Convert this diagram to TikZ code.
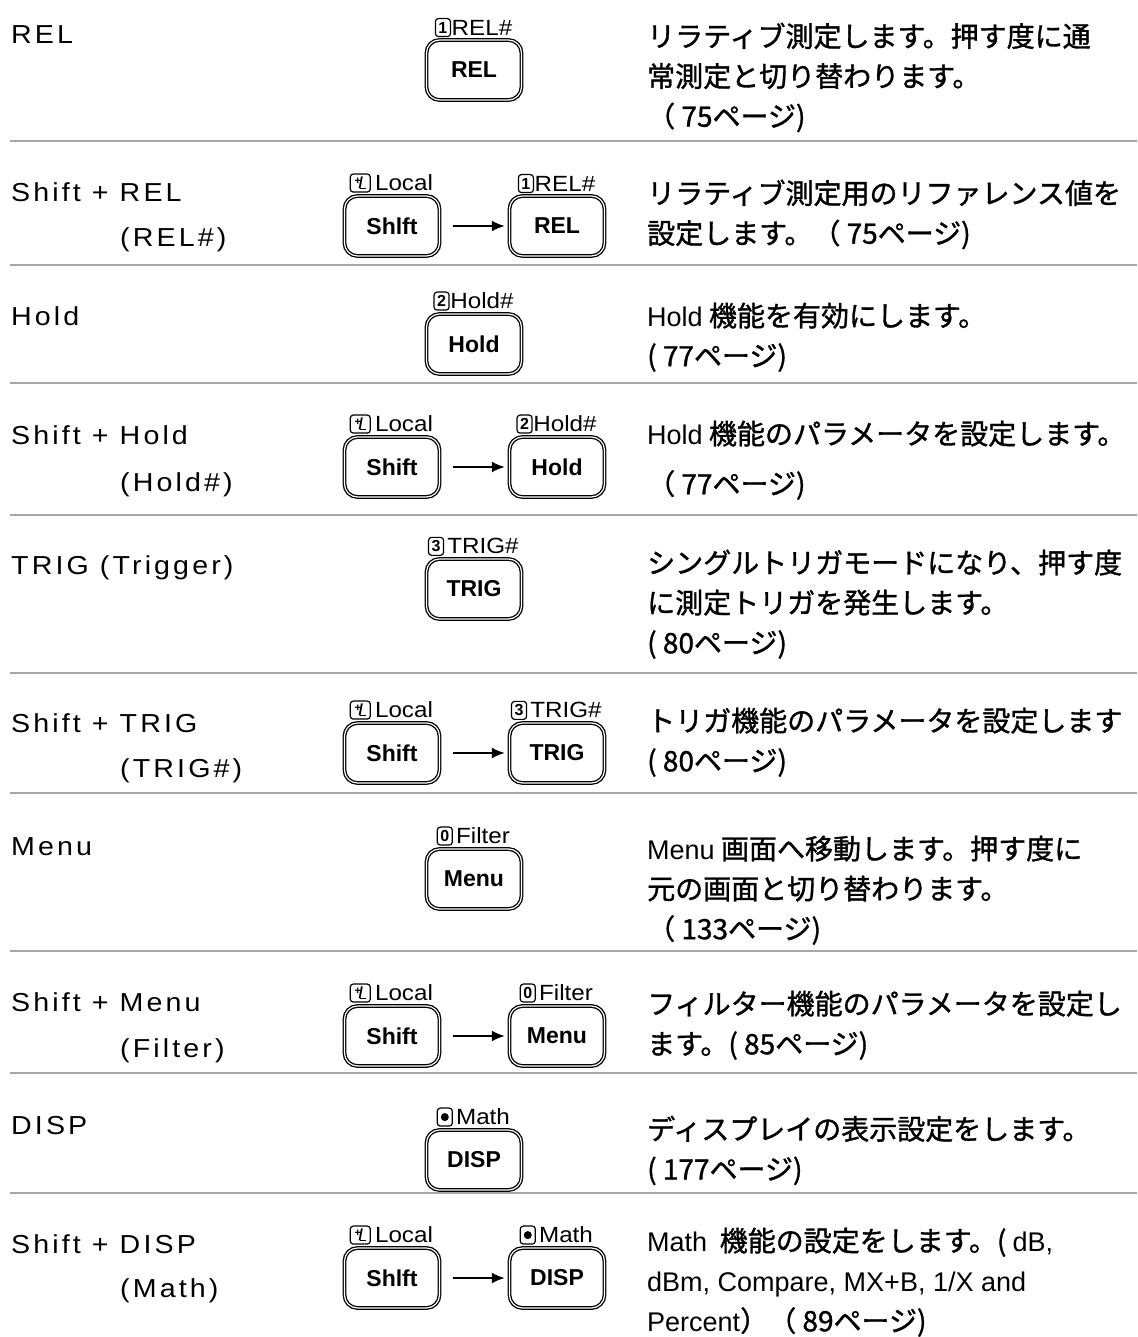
\documentclass[tikz,border=0pt]{standalone}
\usepackage{fontspec}
\setmainfont{Liberation Sans}
\newfontfamily\jpfont[FakeBold=1.2]{Noto Sans CJK JP}
\newfontfamily\namefont[LetterSpace=12,FakeStretch=1.1]{Liberation Sans}
\newfontfamily\capfont[FakeStretch=1.1]{Liberation Sans}
\usetikzlibrary{positioning,arrows.meta}

\definecolor{rulegray}{HTML}{A6A6A6}
\newcommand{\en}[1]{{\normalfont\fontsize{27}{40}\selectfont #1}}
\newcommand{\pmsign}{\raisebox{3.5pt}{\fontsize{11}{11}\selectfont +}\kern-2.5pt/\kern-2.5pt\raisebox{-1pt}{\rule{5.5pt}{1.3pt}}}

\tikzset{
    every node/.style={inner sep=0pt},
    funcname/.style={anchor=base west, font=\namefont\fontsize{26}{26}\selectfont},
    desc/.style={anchor=north west, align=left, font=\jpfont\fontsize{28}{40}\selectfont},
    button/.style={draw, line width=1.3pt, double=white, double distance=1.2pt, rounded corners=13pt,
        minimum width=95pt, minimum height=60pt, font=\bfseries\fontsize{23}{23}\selectfont},
    keycap/.style={font=\capfont\fontsize{22}{22}\selectfont},
    iconbox/.style={draw, line width=1.2pt, rounded corners=3pt, minimum width=15pt,
        minimum height=18pt, font=\bfseries\fontsize{16}{16}\selectfont},
    press/.style={-{Latex[length=13pt,width=11pt]}, line width=2pt, shorten <=13pt, shorten >=4pt},
    divider/.style={draw=rulegray, line width=2.5pt},
}

\begin{document}
\begin{tikzpicture}[x=1pt, y=-1pt]
    \path[use as bounding box, fill=white] (0,0) rectangle (1137,1337);

    % row dividers
    \draw[divider] (10,141) -- (1137,141);
    \draw[divider] (10,265) -- (1137,265);
    \draw[divider] (10,383) -- (1137,383);
    \draw[divider] (10,515) -- (1137,515);
    \draw[divider] (10,673) -- (1137,673);
    \draw[divider] (10,793) -- (1137,793);
    \draw[divider] (10,951) -- (1137,951);
    \draw[divider] (10,1073) -- (1137,1073);
    \draw[divider] (10,1193) -- (1137,1193);

    % REL
    \node[funcname] (rel-name) at (11,44) {REL};
    \node[button] (rel-key) at (474,70) {REL};
    \node[keycap, above=4pt of rel-key, xshift=8pt] (rel-cap) {REL\#};
    \node[iconbox, left=0.5pt of rel-cap] (rel-icon) {1};
    \node[desc] (rel-desc) at (647,22.5) {リラティブ測定します。押す度に通\\常測定と切り替わります。\\（ 75ページ)};

    % Shift + REL
    \node[funcname] (shift-rel-name) at (11,201.5) {Shift + REL};
    \node[funcname] (shift-rel-sub) at (120,246.5) {(REL\#)};
    \node[button] (shift-rel-shift) at (392,226) {Shlft};
    \node[button] (shift-rel-key) at (557,226) {REL};
    \draw[press] (shift-rel-shift) -- (shift-rel-key);
    \node[keycap, above=4pt of shift-rel-shift, xshift=12pt] (shift-rel-shift-cap) {Local};
    \node[iconbox, left=4pt of shift-rel-shift-cap, minimum width=20pt] (shift-rel-shift-icon) {\pmsign};
    \node[keycap, above=4pt of shift-rel-key, xshift=8pt] (shift-rel-cap) {REL\#};
    \node[iconbox, left=0.5pt of shift-rel-cap] (shift-rel-icon) {1};
    \node[desc] (shift-rel-desc) at (647,179.5) {リラティブ測定用のリファレンス値を\\設定します。（ 75ページ)};

    % Hold
    \node[funcname] (hold-name) at (11,325.5) {Hold};
    \node[button] (hold-key) at (474,344) {Hold};
    \node[keycap, above=4pt of hold-key, xshift=8pt] (hold-cap) {Hold\#};
    \node[iconbox, left=0.5pt of hold-cap] (hold-icon) {2};
    \node[desc] (hold-desc) at (647,302.5) {\en{Hold} 機能を有効にします。\\( 77ページ)};

    % Shift + Hold
    \node[funcname] (shift-hold-name) at (11,444.5) {Shift + Hold};
    \node[funcname] (shift-hold-sub) at (120,491.5) {(Hold\#)};
    \node[button] (shift-hold-shift) at (392,467) {Shift};
    \node[button] (shift-hold-key) at (557,467) {Hold};
    \draw[press] (shift-hold-shift) -- (shift-hold-key);
    \node[keycap, above=4pt of shift-hold-shift, xshift=12pt] (shift-hold-shift-cap) {Local};
    \node[iconbox, left=4pt of shift-hold-shift-cap, minimum width=20pt] (shift-hold-shift-icon) {\pmsign};
    \node[keycap, above=4pt of shift-hold-key, xshift=8pt] (shift-hold-cap) {Hold\#};
    \node[iconbox, left=0.5pt of shift-hold-cap] (shift-hold-icon) {2};
    \node[desc] (shift-hold-desc) at (647,420.5) {\en{Hold} 機能のパラメータを設定します。\\[10pt]（ 77ページ)};

    % TRIG
    \node[funcname] (trig-name) at (11,574.5) {TRIG (Trigger)};
    \node[button] (trig-key) at (474,589) {TRIG};
    \node[keycap, above=4pt of trig-key, xshift=9pt] (trig-cap) {TRIG\#};
    \node[iconbox, left=3pt of trig-cap] (trig-icon) {3};
    \node[desc] (trig-desc) at (647,549.5) {シングルトリガモードになり、押す度\\に測定トリガを発生します。\\( 80ページ)};

    % Shift + TRIG
    \node[funcname] (shift-trig-name) at (11,732.5) {Shift + TRIG};
    \node[funcname] (shift-trig-sub) at (120,777.5) {(TRIG\#)};
    \node[button] (shift-trig-shift) at (392,753) {Shift};
    \node[button] (shift-trig-key) at (557,753) {TRIG};
    \draw[press] (shift-trig-shift) -- (shift-trig-key);
    \node[keycap, above=4pt of shift-trig-shift, xshift=12pt] (shift-trig-shift-cap) {Local};
    \node[iconbox, left=4pt of shift-trig-shift-cap, minimum width=20pt] (shift-trig-shift-icon) {\pmsign};
    \node[keycap, above=4pt of shift-trig-key, xshift=9pt] (shift-trig-cap) {TRIG\#};
    \node[iconbox, left=3pt of shift-trig-cap] (shift-trig-icon) {3};
    \node[desc] (shift-trig-desc) at (647,707.5) {トリガ機能のパラメータを設定します\\( 80ページ)};

    % Menu
    \node[funcname] (menu-name) at (11,855.5) {Menu};
    \node[button] (menu-key) at (474,879) {Menu};
    \node[keycap, above=4pt of menu-key, xshift=9pt] (menu-cap) {Filter};
    \node[iconbox, left=3pt of menu-cap] (menu-icon) {0};
    \node[desc] (menu-desc) at (647,835.5) {\en{Menu} 画面へ移動します。押す度に\\元の画面と切り替わります。\\（ 133ページ)};

    % Shift + Menu
    \node[funcname] (shift-menu-name) at (11,1011.5) {Shift + Menu};
    \node[funcname] (shift-menu-sub) at (120,1057.5) {(Filter)};
    \node[button] (shift-menu-shift) at (392,1036) {Shift};
    \node[button] (shift-menu-key) at (557,1036) {Menu};
    \draw[press] (shift-menu-shift) -- (shift-menu-key);
    \node[keycap, above=4pt of shift-menu-shift, xshift=12pt] (shift-menu-shift-cap) {Local};
    \node[iconbox, left=4pt of shift-menu-shift-cap, minimum width=20pt] (shift-menu-shift-icon) {\pmsign};
    \node[keycap, above=4pt of shift-menu-key, xshift=9pt] (shift-menu-cap) {Filter};
    \node[iconbox, left=3pt of shift-menu-cap] (shift-menu-icon) {0};
    \node[desc] (shift-menu-desc) at (647,990.5) {フィルター機能のパラメータを設定し\\ます。( 85ページ)};

    % DISP
    \node[funcname] (disp-name) at (11,1134.5) {DISP};
    \node[button] (disp-key) at (474,1160) {DISP};
    \node[keycap, above=4pt of disp-key, xshift=9pt] (disp-cap) {Math};
    \node[iconbox, left=3pt of disp-cap] (disp-icon) {};
    \fill (disp-icon.center) circle (4pt);
    \node[desc] (disp-desc) at (647,1115.5) {ディスプレイの表示設定をします。\\( 177ページ)};

    % Shift + DISP
    \node[funcname] (shift-disp-name) at (11,1253.5) {Shift + DISP};
    \node[funcname] (shift-disp-sub) at (120,1297.5) {(Math)};
    \node[button] (shift-disp-shift) at (392,1278) {Shlft};
    \node[button] (shift-disp-key) at (557,1278) {DISP};
    \draw[press] (shift-disp-shift) -- (shift-disp-key);
    \node[keycap, above=4pt of shift-disp-shift, xshift=12pt] (shift-disp-shift-cap) {Local};
    \node[iconbox, left=4pt of shift-disp-shift-cap, minimum width=20pt] (shift-disp-shift-icon) {\pmsign};
    \node[keycap, above=4pt of shift-disp-key, xshift=9pt] (shift-disp-cap) {Math};
    \node[iconbox, left=3pt of shift-disp-cap] (shift-disp-icon) {};
    \fill (shift-disp-icon.center) circle (4pt);
    \node[desc] (shift-disp-desc) at (647,1227.5) {\en{Math}\ \ 機能の設定をします。( \en{dB,}\\\en{dBm, Compare, MX+B, 1/X and}\\\en{Percent}）（ 89ページ)};
\end{tikzpicture}
\end{document}
